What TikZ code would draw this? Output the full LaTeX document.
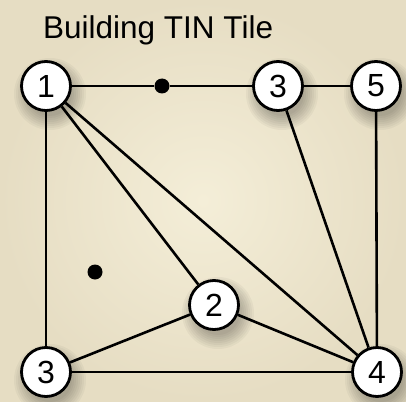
\documentclass[tikz,border=0pt]{standalone}
\usepackage{fontspec}
\setmainfont{Liberation Sans}
\usetikzlibrary{calc}
\definecolor{paperin}{HTML}{F4EED8}
\definecolor{paperout}{HTML}{E6DDC3}
\tikzset{vert/.style={circle,draw,fill=white,line width=2.8pt,minimum size=49pt,inner sep=0pt,font=\fontsize{32}{34}\selectfont},
  dot/.style={circle,fill,inner sep=0pt,minimum size=15pt},
  edge/.style={line width=2.6pt}}
\begin{document}
\begin{tikzpicture}[x=1pt,y=-1pt]
\shade[inner color=paperin,outer color=paperout](0,0)rectangle(406,401);
\useasboundingbox(0,0)rectangle(406,401);
\node[anchor=base west,font=\fontsize{31.5}{34}\selectfont,inner sep=0pt](title)at(43,38.5){Building TIN Tile};
% vertices with soft shadow
\foreach \n/\x/\y/\t in {v1/46/86/1,v3a/278/86/3,v5/376/86/5,v2/214/305/2,v3b/46/372/3,v4/377/372/4}{
  \foreach \r in {36,34,...,22}{\fill[black,opacity=.035]($(\x,\y)+(4,8)$)circle(\r);}
  \node[vert](\n)at(\x,\y){\t};}
\node[dot](d1)at(162,86){};\node[dot](d2)at(95,272){};
\draw[edge](v1)--(d1)--(v3a);\draw[edge](v3a)--(v5);\draw[edge](v1)--(v3b);
\draw[edge](v1)--(v2);\draw[edge](v1)--(v4);\draw[edge](v3a)--(v4);\draw[edge](v5)--(v4);
\draw[edge](v2)--(v4);\draw[edge](v3b)--(v2);\draw[edge](v3b)--(v4);
\end{tikzpicture}
\end{document}
